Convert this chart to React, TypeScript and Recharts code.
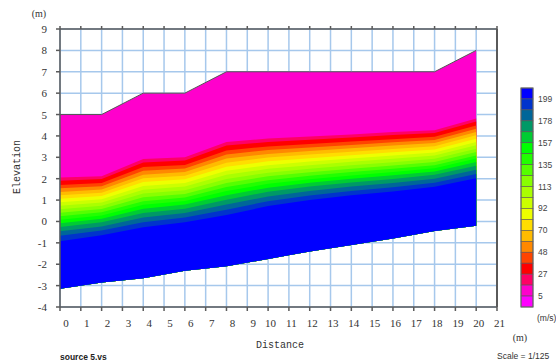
import { ComposedChart, Area, Line, XAxis, YAxis, CartesianGrid } from "recharts"

// distance (m) of each sounding column
const distances = [0, 2, 4, 6, 8, 10, 12, 14, 16, 18, 20]

// ground surface and base of section (m)
const topSurface = [5, 5, 6, 6, 7, 7, 7, 7, 7, 7, 8]
const bottomSurface = [-3.15, -2.85, -2.65, -2.3, -2.1, -1.75, -1.4, -1.1, -0.8, -0.45, -0.2]

// contour lines, elevation of each velocity level (m/s) per column
const v16 = [2.05, 2.12, 2.92, 3.0, 3.72, 3.88, 3.97, 4.07, 4.18, 4.27, 4.82]
const v27 = [1.9, 1.98, 2.76, 2.85, 3.55, 3.72, 3.82, 3.93, 4.04, 4.14, 4.68]
const v38 = [1.71, 1.8, 2.55, 2.64, 3.32, 3.51, 3.62, 3.74, 3.85, 3.96, 4.49]
const v48 = [1.55, 1.65, 2.37, 2.48, 3.13, 3.34, 3.46, 3.58, 3.7, 3.81, 4.34]
const v59 = [1.38, 1.5, 2.19, 2.31, 2.94, 3.16, 3.29, 3.42, 3.55, 3.67, 4.18]
const v70 = [1.22, 1.34, 2.02, 2.14, 2.75, 2.99, 3.13, 3.26, 3.39, 3.52, 4.03]
const v81 = [1.06, 1.19, 1.84, 1.97, 2.56, 2.81, 2.96, 3.1, 3.24, 3.37, 3.87]
const v92 = [0.9, 1.04, 1.66, 1.8, 2.37, 2.63, 2.8, 2.95, 3.08, 3.23, 3.72]
const v103 = [0.73, 0.89, 1.48, 1.63, 2.18, 2.46, 2.63, 2.79, 2.93, 3.08, 3.56]
const v113 = [0.57, 0.73, 1.31, 1.46, 1.99, 2.28, 2.47, 2.63, 2.77, 2.93, 3.4]
const v124 = [0.41, 0.58, 1.13, 1.29, 1.8, 2.11, 2.3, 2.47, 2.62, 2.78, 3.25]
const v135 = [0.24, 0.43, 0.95, 1.12, 1.61, 1.93, 2.14, 2.31, 2.46, 2.63, 3.09]
const v146 = [0.08, 0.28, 0.78, 0.96, 1.42, 1.76, 1.97, 2.15, 2.31, 2.49, 2.94]
const v157 = [-0.08, 0.13, 0.6, 0.79, 1.23, 1.58, 1.81, 2.0, 2.16, 2.34, 2.78]
const v167 = [-0.26, -0.04, 0.4, 0.6, 1.02, 1.39, 1.63, 1.82, 1.99, 2.18, 2.61]
const v178 = [-0.46, -0.23, 0.19, 0.4, 0.79, 1.17, 1.43, 1.63, 1.8, 2.0, 2.42]
const v188 = [-0.67, -0.42, -0.04, 0.18, 0.55, 0.95, 1.21, 1.43, 1.6, 1.81, 2.22]
const v199 = [-0.92, -0.64, -0.27, -0.04, 0.3, 0.72, 1.0, 1.22, 1.4, 1.62, 2.02]

const contours: Record<string, number[]> = {
  top: topSurface, v16, v27, v38, v48, v59, v70, v81, v92, v103, v113,
  v124, v135, v146, v157, v167, v178, v188, v199,
}

// bands drawn from the top down, each filled from the base up to its key
const bands = [
  { key: "top", color: "#ff00cc" },
  { key: "v16", color: "#ff0066" },
  { key: "v27", color: "#ff0000" },
  { key: "v38", color: "#ff4400" },
  { key: "v48", color: "#ff8800" },
  { key: "v59", color: "#ffbb00" },
  { key: "v70", color: "#ffdd00" },
  { key: "v81", color: "#eeff00" },
  { key: "v92", color: "#ccff00" },
  { key: "v103", color: "#aaff00" },
  { key: "v113", color: "#88ff00" },
  { key: "v124", color: "#55ff00" },
  { key: "v135", color: "#22ff00" },
  { key: "v146", color: "#00ff00" },
  { key: "v157", color: "#00cc33" },
  { key: "v167", color: "#009966" },
  { key: "v178", color: "#006699" },
  { key: "v188", color: "#0033cc" },
  { key: "v199", color: "#0000ff" },
]

const legendColors = [
  "#0000ff", "#0033cc", "#006699", "#009966", "#00cc33", "#00ff00", "#22ff00",
  "#55ff00", "#88ff00", "#aaff00", "#ccff00", "#eeff00", "#ffdd00", "#ffbb00",
  "#ff8800", "#ff4400", "#ff0000", "#ff0066", "#ff00cc", "#ff00ff",
]
const legendLabels = ["199", "178", "157", "135", "113", "92", "70", "48", "27", "5"]

const xTicks = Array.from({ length: 22 }, (_, i) => i)
const yTicks = Array.from({ length: 14 }, (_, i) => i - 4)

const data = distances.map((x, i) => {
  const row: Record<string, number> = { x, bottom: bottomSurface[i] }
  Object.keys(contours).forEach((k) => {
    row[k] = contours[k][i]
  })
  return row
})

const AXIS = "#5a5a5a"
const GRID = "#a6c8ec"
const TICK_FONT = "'Liberation Serif', 'DejaVu Serif', serif"
const MONO = "'Liberation Mono', 'DejaVu Sans Mono', monospace"
const SANS = "'Liberation Sans', Arial, sans-serif"

const XTick = ({ x, payload }: any) => (
  <text
    x={x + (payload.value < 10 ? 6 : 2.5)}
    y={327}
    textAnchor="middle"
    fontSize={11}
    fill="#333"
    fontFamily={TICK_FONT}
  >
    {payload.value}
  </text>
)

const YTick = ({ y, payload }: any) => (
  <text x={47} y={y + 4} textAnchor="end" fontSize={11} fill="#333" fontFamily={TICK_FONT}>
    {payload.value}
  </text>
)

export default function App() {
  const cellH = 10.95
  const legendTop = 88
  return (
    <div style={{ position: "absolute", left: 0, top: 0, width: 556, height: 362, background: "#fff" }}>
      <ComposedChart
        width={556}
        height={362}
        data={data}
        margin={{ top: 25, right: 49, bottom: 35, left: 20 }}
      >
        <CartesianGrid stroke={GRID} strokeWidth={1.5} />
        <XAxis
          dataKey="x"
          type="number"
          domain={[0, 21]}
          ticks={xTicks}
          height={20}
          stroke={AXIS}
          strokeWidth={1.5}
          tickSize={4}
          tick={<XTick />}
          interval={0}
        />
        <XAxis
          xAxisId="top"
          orientation="top"
          dataKey="x"
          type="number"
          domain={[0, 21]}
          ticks={xTicks}
          height={4}
          stroke={AXIS}
          strokeWidth={1.5}
          tickSize={3}
          tickFormatter={() => ""}
          interval={0}
        />
        <YAxis
          type="number"
          domain={[-4, 9]}
          ticks={yTicks}
          width={40}
          stroke={AXIS}
          strokeWidth={1.5}
          tickSize={4}
          tick={<YTick />}
          interval={0}
        />
        <YAxis
          yAxisId="right"
          orientation="right"
          type="number"
          domain={[-4, 9]}
          ticks={yTicks}
          width={10}
          stroke={AXIS}
          strokeWidth={2}
          tickSize={3}
          tickFormatter={() => ""}
          interval={0}
        />
        {bands.map((b) => (
          <Area
            key={b.key}
            type="linear"
            dataKey={(d: any) => [d.bottom, d[b.key]]}
            stroke="none"
            fill={b.color}
            fillOpacity={1}
            isAnimationActive={false}
          />
        ))}
        <Line
          type="linear"
          dataKey="top"
          stroke="#555"
          strokeWidth={1}
          dot={false}
          isAnimationActive={false}
        />
      </ComposedChart>
      <svg
        width={556}
        height={362}
        style={{ position: "absolute", left: 0, top: 0, pointerEvents: "none" }}
      >
        <text x={39} y={17} textAnchor="middle" fontSize={10} fill="#333" fontFamily={TICK_FONT}>
          (m)
        </text>
        <text
          transform="translate(20,167) rotate(-90)"
          textAnchor="middle"
          fontSize={10}
          fill="#333"
          fontFamily={MONO}
        >
          Elevation
        </text>
        <text x={280} y={348} textAnchor="middle" fontSize={10} fill="#333" fontFamily={MONO}>
          Distance
        </text>
        <text x={520} y={341} textAnchor="middle" fontSize={10} fill="#333" fontFamily={TICK_FONT}>
          (m)
        </text>
        <text x={60} y={360} fontSize={8.5} fontWeight="bold" fill="#222" fontFamily={SANS}>
          source 5.vs
        </text>
        <text x={497} y={359} fontSize={8.5} fill="#333" fontFamily={SANS}>
          Scale = 1/125
        </text>
        <text x={537} y={321} fontSize={8.5} fill="#333" fontFamily={SANS}>
          (m/s)
        </text>
        {legendColors.map((c, i) => (
          <rect
            key={c}
            x={521}
            y={legendTop + i * cellH}
            width={12}
            height={cellH}
            fill={c}
            stroke="#555"
            strokeWidth={0.6}
          />
        ))}
        <rect
          x={521}
          y={legendTop}
          width={12}
          height={cellH * legendColors.length}
          fill="none"
          stroke="#666"
          strokeWidth={1}
        />
        {legendLabels.map((l, i) => (
          <text
            key={l}
            x={538}
            y={legendTop + (2 * i + 1) * cellH + 3}
            fontSize={8.5}
            fill="#444"
            fontFamily={SANS}
          >
            {l}
          </text>
        ))}
      </svg>
    </div>
  )
}
